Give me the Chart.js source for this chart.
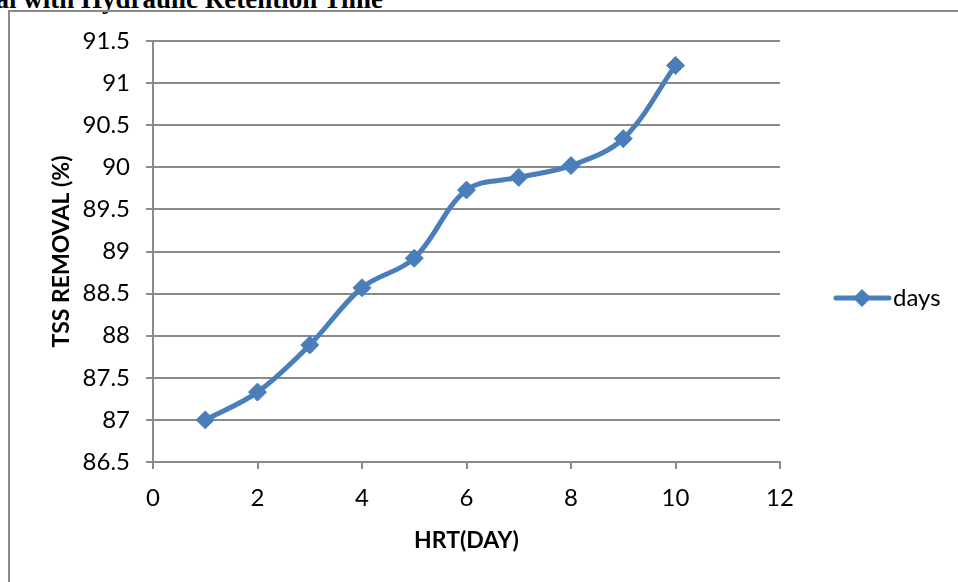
<!DOCTYPE html>
<html lang="en">
<head>
    <meta charset="UTF-8">
    <title>TSS Removal with HRT</title>
    <script src="https://cdn.jsdelivr.net/npm/chart.js"></script>
    <style>
        body { margin: 0; background: #fff; width: 958px; height: 582px; overflow: hidden; position: relative; }
        .heading {
            position: absolute; right: 575px; top: -16px; line-height: 30px;
            font: bold 27px "Liberation Serif", "Times New Roman", serif;
            white-space: nowrap; color: #000;
        }
        .frame {
            position: absolute; left: 8px; top: 10px; width: 1000px; height: 640px;
            border: 2px solid #8a8a8a; box-sizing: border-box;
        }
        .wrap { position: absolute; left: 0; top: 0; width: 958px; height: 582px; }
    </style>
</head>
<body>
    <div class="heading">al with Hydraulic Retention Time</div>
    <div class="frame"></div>
    <div class="wrap"><canvas id="hrtChart"></canvas></div>

    <script>
        // données
        const hrtDays = [1, 2, 3, 4, 5, 6, 7, 8, 9, 10];
        const tssRemoval = [87.0, 87.33, 87.89, 88.57, 88.92, 89.73, 89.88, 90.02, 90.34, 91.21];
        const seriesName = 'days';
        const xTitle = 'HRT(DAY)';
        const yTitle = 'TSS REMOVAL (%)';

        const blue = '#4a7ebb';
        const grey = '#8a8a8a';
        const font = 'Lato, "Open Sans", sans-serif';

        // légende dessinée à la main (ligne + losange comme Excel)
        const legendPlugin = {
            id: 'excelLegend',
            afterDraw(chart) {
                const ctx = chart.ctx;
                const y = 298;
                ctx.save();
                ctx.strokeStyle = blue;
                ctx.lineWidth = 5;
                ctx.lineCap = 'round';
                ctx.beginPath();
                ctx.moveTo(836, y);
                ctx.lineTo(889, y);
                ctx.stroke();
                ctx.fillStyle = blue;
                ctx.beginPath();
                ctx.moveTo(862 - 9, y);
                ctx.lineTo(862, y - 9);
                ctx.lineTo(862 + 9, y);
                ctx.lineTo(862, y + 9);
                ctx.closePath();
                ctx.fill();
                ctx.fillStyle = '#000';
                ctx.font = '24px ' + font;
                ctx.textBaseline = 'middle';
                ctx.fillText(seriesName, 893, y);
                ctx.restore();
            }
        };

        const ctx = document.getElementById('hrtChart').getContext('2d');
        new Chart(ctx, {
            type: 'line',
            data: {
                datasets: [{
                    label: seriesName,
                    data: hrtDays.map((d, i) => ({ x: d, y: tssRemoval[i] })),
                    borderColor: blue,
                    backgroundColor: blue,
                    borderWidth: 5,
                    tension: 0.35,
                    pointStyle: 'rectRot',
                    pointRadius: 9,
                    pointBorderWidth: 1,
                    pointBackgroundColor: blue,
                    pointBorderColor: blue
                }]
            },
            options: {
                responsive: true,
                maintainAspectRatio: false,
                animation: false,
                layout: { padding: { top: 41, right: 178, left: 0, bottom: 0 } },
                plugins: {
                    legend: { display: false },
                    tooltip: { enabled: false }
                },
                scales: {
                    x: {
                        type: 'linear',
                        min: 0, max: 12,
                        afterFit: s => { s.height = 120; },
                        ticks: { stepSize: 2, padding: 15, color: '#000', font: { family: font, size: 24 } },
                        grid: { drawOnChartArea: false, drawTicks: true, tickLength: 7, color: grey, lineWidth: 2 },
                        border: { color: grey, width: 2 },
                        title: { display: true, text: xTitle, color: '#000', padding: { bottom: 28 },
                                 font: { family: font, size: 23, weight: 'bold' } }
                    },
                    y: {
                        min: 86.5, max: 91.5,
                        afterFit: s => { s.width = 153; },
                        ticks: { stepSize: 0.5, padding: 16, color: '#000', font: { family: font, size: 24 },
                                 callback: v => String(v) },
                        grid: { tickLength: 7, color: grey, lineWidth: 2 },
                        border: { color: grey, width: 2 },
                        title: { display: true, text: yTitle, color: '#000', padding: { top: 48 },
                                 font: { family: font, size: 23, weight: 'bold' } }
                    }
                }
            },
            plugins: [legendPlugin]
        });
    </script>
</body>
</html>
